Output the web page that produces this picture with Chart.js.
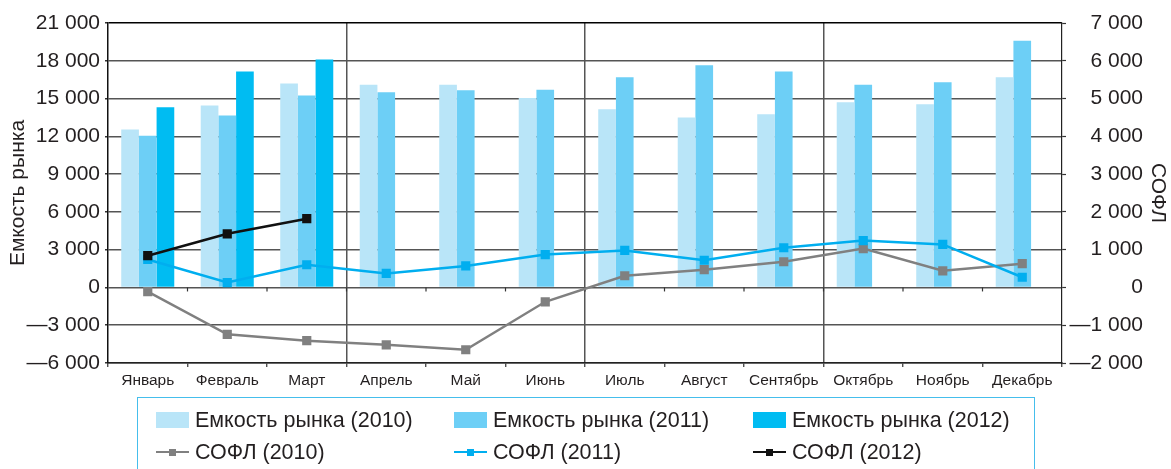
<!DOCTYPE html>
<html>
<head>
<meta charset="utf-8">
<script src="https://cdn.jsdelivr.net/npm/chart.js@4.4.1/dist/chart.umd.min.js"></script>
<style>
  html, body { margin: 0; padding: 0; background: #fff; overflow: hidden; }
  #wrap { position: relative; width: 1171px; height: 469px; }
  #legend {
    position: absolute; left: 137px; top: 397px; width: 898px; height: 100px;
    border: 1.5px solid #45BEEC; box-sizing: border-box;
    font-family: "Liberation Sans", Arial, sans-serif; font-size: 21.5px; color: #231F20;
  }
  .item { position: absolute; display: flex; align-items: center; height: 24px; white-space: nowrap; }
  .sw { width: 33px; height: 16px; margin-right: 6px; position: relative; }
  .ln { position: absolute; left: 0; right: 0; top: 6.75px; height: 2.5px; }
  .pt { position: absolute; left: 13px; top: 4.5px; width: 7px; height: 7px; }
</style>
</head>
<body>
<div id="wrap">
  <canvas id="c" width="1171" height="469"></canvas>
  <div id="legend"></div>
</div>
<script>
const months = ['Январь','Февраль','Март','Апрель','Май','Июнь','Июль','Август','Сентябрь','Октябрь','Ноябрь','Декабрь'];
const market2010 = [12550, 14450, 16200, 16100, 16100, 15050, 14150, 13500, 13750, 14700, 14550, 16700];
const market2011 = [12050, 13650, 15250, 15500, 15650, 15700, 16700, 17650, 17150, 16100, 16300, 19600];
const market2012 = [14300, 17150, 18100, null, null, null, null, null, null, null, null, null];
const sofl2010 = [-110, -1240, -1410, -1520, -1650, -380, 310, 470, 680, 1030, 440, 630];
const sofl2011 = [740, 130, 600, 370, 570, 870, 980, 720, 1050, 1240, 1140, 270];
const sofl2012 = [840, 1420, 1820, null, null, null, null, null, null, null, null, null];
const leftAxisTitle = 'Емкость рынка';
const rightAxisTitle = 'СОФЛ';
const seriesLabels = ['Емкость рынка (2010)','Емкость рынка (2011)','Емкость рынка (2012)','СОФЛ (2010)','СОФЛ (2011)','СОФЛ (2012)'];

const FONT = '"Liberation Sans", Arial, sans-serif';
const TXT = '#231F20';
const C10 = '#B9E5F8', C11 = '#6DCFF6', C12 = '#00BCF2';
const L10 = '#808080', L11 = '#00AEEF', L12 = '#111111';

function fmt(v) {
  const a = Math.abs(v);
  const s = a >= 1000 ? Math.floor(a / 1000) + ' ' + String(a % 1000).padStart(3, '0') : String(a);
  return (v < 0 ? '—' : '') + s;
}

function lineDs(label, data, color, order) {
  return {
    type: 'line', label, data, yAxisID: 'y1', order,
    borderColor: color, backgroundColor: color, borderWidth: 2.5,
    pointStyle: 'rect', pointRadius: 6.5, pointHoverRadius: 6.5,
    pointBackgroundColor: color, pointBorderWidth: 0, tension: 0, spanGaps: false
  };
}
function barDs(label, data, color) {
  return {
    type: 'bar', label, data, yAxisID: 'y', order: 5,
    backgroundColor: color, borderWidth: 0,
    categoryPercentage: 0.667, barPercentage: 1.0
  };
}

const datasets = [
  barDs(seriesLabels[0], market2010, C10),
  barDs(seriesLabels[1], market2011, C11),
  barDs(seriesLabels[2], market2012, C12),
  lineDs(seriesLabels[3], sofl2010, L10, 3),
  lineDs(seriesLabels[4], sofl2011, L11, 2),
  lineDs(seriesLabels[5], sofl2012, L12, 1)
];

const zeroTicks = {
  id: 'zeroTicks',
  beforeDatasetsDraw(chart) {
    const x = chart.scales.x, y = chart.scales.y, ctx = chart.ctx;
    const y0 = y.getPixelForValue(0);
    ctx.save();
    ctx.strokeStyle = '#333';
    ctx.lineWidth = 1.2;
    for (let i = 1; i < months.length; i++) {
      const px = (x.getPixelForTick(i - 1) + x.getPixelForTick(i)) / 2;
      ctx.beginPath(); ctx.moveTo(px, y0); ctx.lineTo(px, y0 + 4); ctx.stroke();
    }
    ctx.restore();
  }
};

const rightTitle = {
  id: 'rightTitle',
  afterDraw(chart) {
    const ctx = chart.ctx, a = chart.chartArea;
    ctx.save();
    ctx.translate(1158, (a.top + a.bottom) / 2);
    ctx.rotate(Math.PI / 2);
    ctx.font = '21px ' + FONT;
    ctx.fillStyle = TXT;
    ctx.textAlign = 'center';
    ctx.textBaseline = 'middle';
    ctx.fillText(rightAxisTitle, 0, 0);
    ctx.restore();
  }
};

new Chart(document.getElementById('c'), {
  data: { labels: months, datasets },
  plugins: [zeroTicks, rightTitle],
  options: {
    responsive: false, animation: false,
    layout: { padding: { top: 23, left: 0, right: 28, bottom: 0 } },
    plugins: { legend: { display: false }, tooltip: { enabled: false }, title: { display: false } },
    scales: {
      x: {
        type: 'category', offset: true,
        grid: {
          offset: true, drawOnChartArea: true, drawTicks: true, tickLength: 4, tickColor: '#333', tickWidth: 1.2,
          color: (ctx) => (ctx.index > 0 && ctx.index < months.length && ctx.index % 3 === 0) ? '#555' : 'rgba(0,0,0,0)',
          lineWidth: 1.5
        },
        border: { display: true, color: '#222', width: 1.5 },
        ticks: { font: { family: FONT, size: 15.5 }, color: TXT, padding: 4, maxRotation: 0, autoSkip: false },
        afterFit(s) { s.height = 106; }
      },
      y: {
        position: 'left', min: -6000, max: 21000,
        ticks: { stepSize: 3000, font: { family: FONT, size: 21 }, color: TXT, padding: 5, callback: (v) => fmt(v) },
        grid: {
          color: (ctx) => (ctx.tick && ctx.tick.value === 21000) ? '#000' : '#555',
          lineWidth: 1.5, drawTicks: true, tickLength: 3, tickColor: '#333'
        },
        border: { display: true, color: '#111', width: 1.5 },
        title: { display: true, text: leftAxisTitle, font: { family: FONT, size: 21 }, color: TXT, padding: { top: 6, bottom: 0 } },
        afterFit(s) { s.width = 108; }
      },
      y1: {
        position: 'right', min: -2000, max: 7000,
        ticks: { stepSize: 1000, font: { family: FONT, size: 21 }, color: TXT, padding: 3, crossAlign: 'far', callback: (v) => fmt(v) },
        grid: { display: true, drawOnChartArea: false, drawTicks: true, tickLength: 4, tickColor: '#333', tickWidth: 1.2 },
        border: { display: true, color: '#222', width: 1.2 },
        title: { display: false },
        afterFit(s) { s.width = 81; }
      }
    }
  }
});

// HTML legend built from the datasets
const legend = document.getElementById('legend');
const colX = [18, 316, 615];
const rowY = [10, 42];
datasets.forEach((ds, i) => {
  const item = document.createElement('div');
  item.className = 'item';
  item.style.left = colX[i % 3] + 'px';
  item.style.top = rowY[Math.floor(i / 3)] + 'px';
  const sw = document.createElement('div');
  sw.className = 'sw';
  if (ds.type === 'bar') {
    sw.style.background = ds.backgroundColor;
  } else {
    const ln = document.createElement('div'); ln.className = 'ln'; ln.style.background = ds.borderColor;
    const pt = document.createElement('div'); pt.className = 'pt'; pt.style.background = ds.borderColor;
    sw.appendChild(ln); sw.appendChild(pt);
  }
  const tx = document.createElement('span');
  tx.textContent = ds.label;
  item.appendChild(sw); item.appendChild(tx);
  legend.appendChild(item);
});
</script>
</body>
</html>
